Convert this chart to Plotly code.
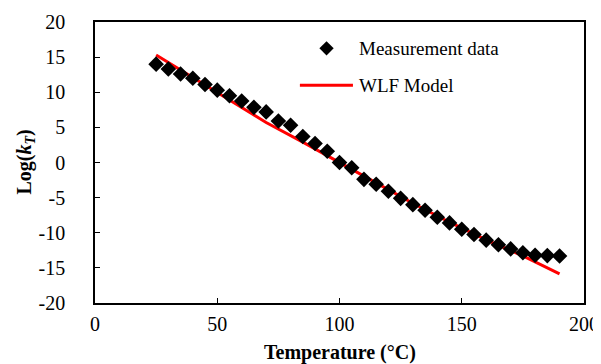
import plotly.graph_objects as go

temp_meas = [25, 30, 35, 40, 45, 50, 55, 60, 65, 70, 75, 80, 85, 90, 95, 100,
             105, 110, 115, 120, 125, 130, 135, 140, 145, 150, 155, 160, 165,
             170, 175, 180, 185, 190]
logk_meas = [14.0, 13.3, 12.6, 12.0, 11.1, 10.3, 9.5, 8.75, 7.85, 7.2, 5.9, 5.3,
             3.7, 2.7, 1.6, 0.0, -0.75, -2.4, -3.1, -4.1, -5.1, -6.0, -6.8, -7.8,
             -8.6, -9.5, -10.25, -11.05, -11.7, -12.3, -12.85, -13.2, -13.25, -13.3]

temp_wlf = [25, 40, 55, 70, 85, 100, 115, 130, 145, 160, 175, 190]
logk_wlf = [15.3, 12.1, 8.9, 5.7, 2.9, 0.05, -2.9, -5.8, -8.5, -11.0, -13.3, -15.85]

xticks = [0, 50, 100, 150, 200]
yticks = [-20, -15, -10, -5, 0, 5, 10, 15, 20]

FONT = "Liberation Serif, Times New Roman, serif"

fig = go.Figure()
fig.add_trace(go.Scatter(
    x=temp_wlf, y=logk_wlf, mode="lines", name="WLF Model",
    line=dict(color="#ff0000", width=3), showlegend=False))
fig.add_trace(go.Scatter(
    x=temp_meas, y=logk_meas, mode="markers", name="Measurement data",
    marker=dict(symbol="diamond", size=12, color="black"), showlegend=False))

# legend keys
fig.add_trace(go.Scatter(
    x=[94.7], y=[16.25], mode="markers", marker=dict(symbol="diamond", size=11, color="black"),
    showlegend=False, hoverinfo="skip"))
fig.add_trace(go.Scatter(
    x=[83.8, 105.5], y=[11.0, 11.0], mode="lines", line=dict(color="#ff0000", width=3),
    showlegend=False, hoverinfo="skip"))
fig.add_annotation(x=107.3, y=16.25, text="Measurement data", showarrow=False,
                   xanchor="left", yanchor="middle", font=dict(family=FONT, size=19, color="black"))
fig.add_annotation(x=107.3, y=11.0, text="WLF Model", showarrow=False,
                   xanchor="left", yanchor="middle", font=dict(family=FONT, size=19, color="black"))

# axis titles
fig.add_annotation(xref="paper", yref="paper", x=0.5, y=-0.175,
                   text="<b>Temperature (°C)</b>", showarrow=False,
                   xanchor="center", yanchor="middle", font=dict(family=FONT, size=20, color="black"))
fig.add_annotation(xref="paper", yref="paper", x=-0.143, y=0.5,
                   text="<b>Log(<i>k</i><sub><i>T</i></sub>)</b>", showarrow=False, textangle=-90,
                   xanchor="center", yanchor="middle", font=dict(family=FONT, size=20, color="black"))

fig.update_layout(
    width=593, height=356,
    margin=dict(l=87, r=17, t=14, b=61),
    paper_bgcolor="white", plot_bgcolor="white",
    font=dict(family=FONT, size=20, color="black"),
    showlegend=False,
)
fig.update_xaxes(
    range=[0, 200], tickvals=xticks, ticktext=[str(v) for v in xticks],
    showgrid=False, zeroline=False, showline=True, linecolor="black", linewidth=1.5,
    mirror=True, ticks="inside", ticklen=5, tickcolor="black", tickwidth=1,
    ticklabelstandoff=2, automargin=False,
    tickfont=dict(family=FONT, size=20),
)
fig.update_yaxes(
    range=[-20, 20], tickvals=yticks, ticktext=[str(v) for v in yticks],
    showgrid=False, zeroline=False, showline=True, linecolor="black", linewidth=1.5,
    mirror=True, ticks="inside", ticklen=5, tickcolor="black", tickwidth=1,
    ticklabelstandoff=24, automargin=False,
    tickfont=dict(family=FONT, size=20),
)

fig.write_html("out.html")
